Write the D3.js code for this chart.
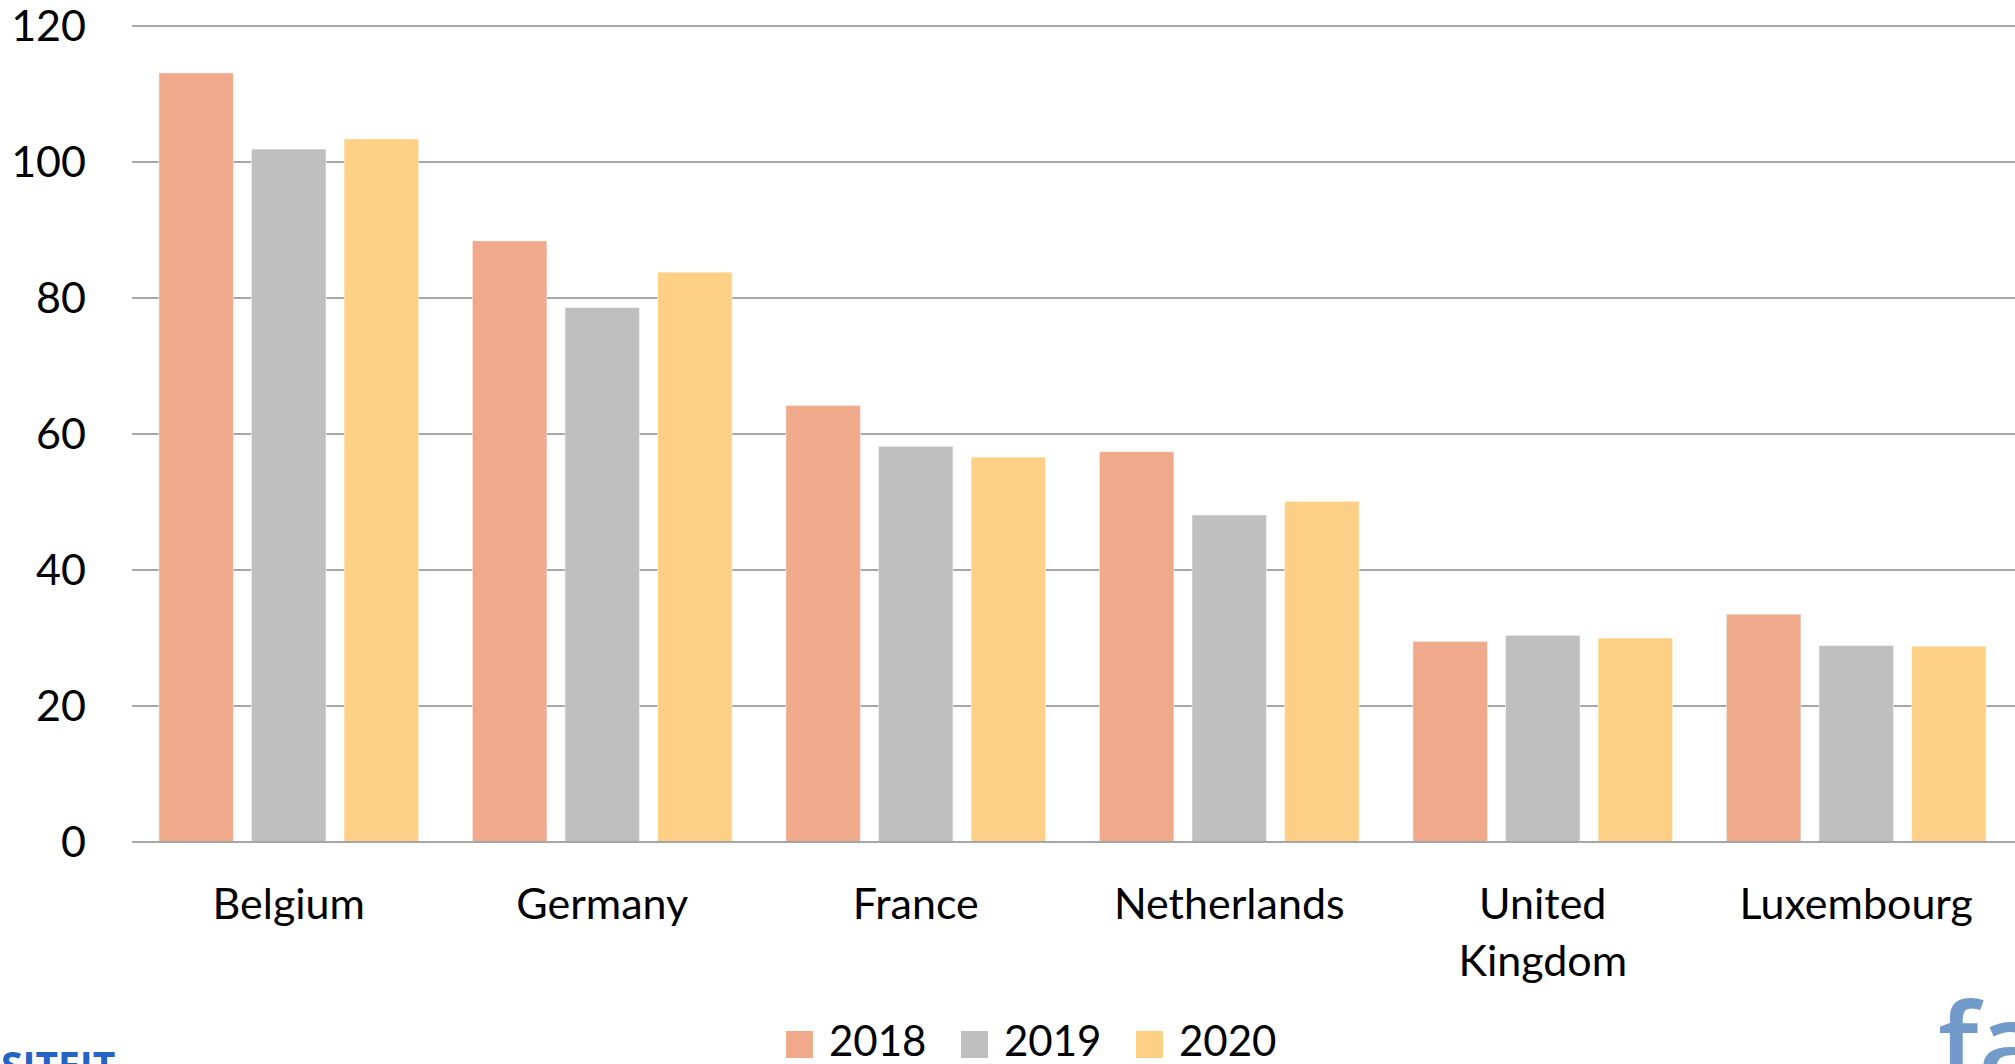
<!DOCTYPE html>
<html>
<head>
<meta charset="utf-8">
<script src="https://cdn.jsdelivr.net/npm/d3@7"></script>
<style>
  html, body { margin: 0; padding: 0; background: #fff; overflow: hidden; }
  text { font-family: Lato, "Open Sans", sans-serif; fill: #000; }
</style>
</head>
<body>
<div id="chart"></div>
<script>
const WIDTH = 2015;
const HEIGHT = 1064;

// data
const countries = ["Belgium", "Germany", "France", "Netherlands", "United Kingdom", "Luxembourg"];
const years = ["2018", "2019", "2020"];
const values2018 = [113.1, 88.4, 64.2, 57.4, 29.5, 33.5];
const values2019 = [101.9, 78.6, 58.2, 48.1, 30.4, 28.9];
const values2020 = [103.4, 83.8, 56.6, 50.1, 30.0, 28.8];
const yTicks = [0, 20, 40, 60, 80, 100, 120];
const colors = ["#F0A98B", "#BFBFBF", "#FED085"];

const series = [values2018, values2019, values2020];

let svg = d3.select("#chart")
    .append("svg")
    .attr("width", WIDTH)
    .attr("height", HEIGHT);

let x0 = d3.scaleBand()
    .domain(countries)
    .range([132, 2013])
    .padding(0);

let x1 = d3.scaleBand()
    .domain(years)
    .range([0, x0.bandwidth()])
    .paddingInner(0.195)
    .paddingOuter(0.29);

let y = d3.scaleLinear()
    .domain([0, 120])
    .range([842, 26]);

// gridlines
svg.append("g")
    .selectAll("line")
    .data(yTicks)
    .enter()
    .append("line")
      .attr("x1", 132)
      .attr("x2", WIDTH)
      .attr("y1", d => y(d))
      .attr("y2", d => y(d))
      .style("stroke", "#A6A6A6")
      .style("stroke-width", 2)

// y tick labels
svg.append("g")
    .selectAll("text")
    .data(yTicks)
    .enter()
    .append("text")
      .attr("x", 86)
      .attr("y", d => y(d))
      .attr("dy", "0.36em")
      .style("text-anchor", "end")
      .style("font-size", "43px")
      .text(d => d)

// bars
let groups = svg.append("g")
    .selectAll("g")
    .data(countries)
    .enter()
    .append("g")
    .attr("transform", d => `translate(${x0(d)},0)`)

groups.selectAll("rect")
    .data((c, i) => years.map((yr, j) => ({year: yr, value: series[j][i], color: colors[j]})))
    .enter()
    .append("rect")
      .attr("x", d => x1(d.year))
      .attr("y", d => y(d.value))
      .attr("width", x1.bandwidth())
      .attr("height", d => y(0) - y(d.value))
      .style("fill", d => d.color)
      .style("stroke", "#fff")
      .style("stroke-opacity", 0.5)
      .style("stroke-width", 1)

// baseline over the bars
svg.append("line")
    .attr("x1", 132)
    .attr("x2", WIDTH)
    .attr("y1", y(0))
    .attr("y2", y(0))
    .style("stroke", "#A6A6A6")
    .style("stroke-width", 2)

// category labels (United Kingdom wraps)
let catLabels = svg.append("g")
    .selectAll("text")
    .data(countries)
    .enter()
    .append("text")
      .attr("x", d => x0(d) + x0.bandwidth() / 2)
      .attr("y", 919)
      .style("text-anchor", "middle")
      .style("font-size", "43px")

catLabels.each(function(d) {
    let words = d == "United Kingdom" ? ["United", "Kingdom"] : [d];
    let cx = x0(d) + x0.bandwidth() / 2;
    d3.select(this).selectAll("tspan")
        .data(words)
        .enter()
        .append("tspan")
          .attr("x", cx)
          .attr("dy", (w, i) => i == 0 ? 0 : 57)
          .text(w => w)
})

// legend
let legend = svg.append("g")
    .selectAll("g")
    .data(years)
    .enter()
    .append("g")
    .attr("transform", (d, i) => `translate(${786 + i * 175},0)`)

legend.append("rect")
    .attr("x", 0)
    .attr("y", 1031)
    .attr("width", 27)
    .attr("height", 27)
    .style("fill", (d, i) => colors[i])

legend.append("text")
    .attr("x", 43)
    .attr("y", 1056)
    .style("font-size", "42px")
    .text(d => d)

// slide logos peeking in at the corners
svg.append("text")
    .attr("x", 1)
    .attr("y", 1080)
    .style("font-family", "'Open Sans', sans-serif")
    .style("font-weight", "bold")
    .style("font-size", "39px")
    .style("fill", "#2563C4")
    .text("SITEIT")

svg.append("text")
    .attr("x", 1938)
    .attr("y", 1084)
    .style("font-family", "'Open Sans', sans-serif")
    .style("font-weight", 600)
    .style("font-size", "112px")
    .style("fill", "#729BC9")
    .text("fa")
</script>
</body>
</html>
